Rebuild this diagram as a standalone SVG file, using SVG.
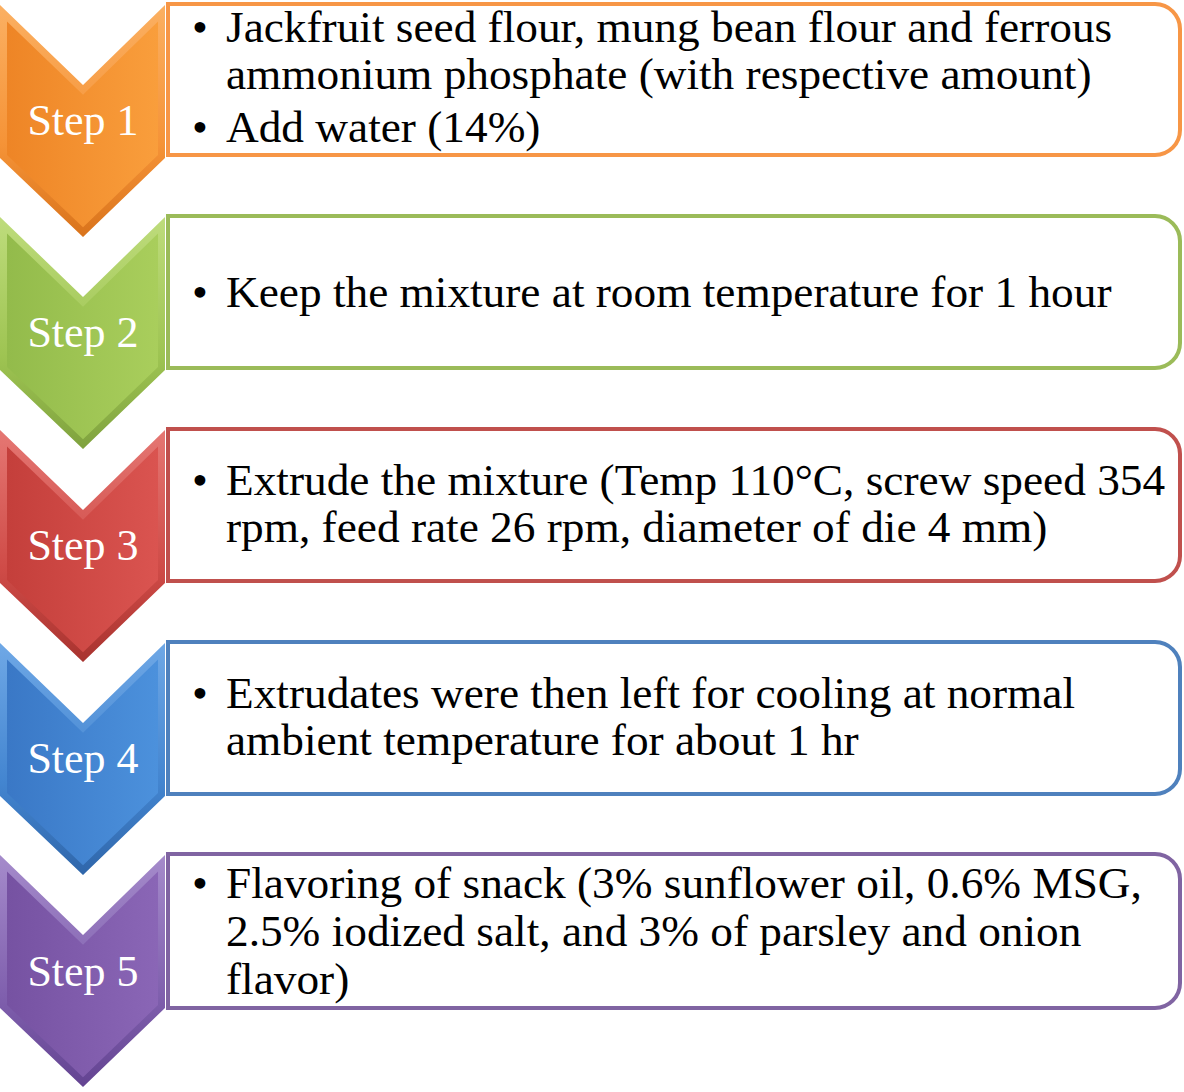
<svg xmlns="http://www.w3.org/2000/svg" width="1184" height="1092" viewBox="0 0 1184 1092">
<defs>
<linearGradient id="gO" x1="0" y1="0" x2="1" y2="0"><stop offset="0" stop-color="#EE8526"/><stop offset="1" stop-color="#F99E3C"/></linearGradient>
<linearGradient id="bO" x1="0" y1="0" x2="0" y2="1"><stop offset="0" stop-color="#FBB062"/><stop offset="0.6" stop-color="#F59337"/><stop offset="1" stop-color="#D9731B"/></linearGradient>
<linearGradient id="gG" x1="0" y1="0" x2="1" y2="0"><stop offset="0" stop-color="#93BB4B"/><stop offset="1" stop-color="#A9CE5C"/></linearGradient>
<linearGradient id="bG" x1="0" y1="0" x2="0" y2="1"><stop offset="0" stop-color="#BEDC7C"/><stop offset="0.6" stop-color="#9EC452"/><stop offset="1" stop-color="#7FA23E"/></linearGradient>
<linearGradient id="gR" x1="0" y1="0" x2="1" y2="0"><stop offset="0" stop-color="#C43F3B"/><stop offset="1" stop-color="#DA5450"/></linearGradient>
<linearGradient id="bR" x1="0" y1="0" x2="0" y2="1"><stop offset="0" stop-color="#E57773"/><stop offset="0.6" stop-color="#CF4B47"/><stop offset="1" stop-color="#A8332F"/></linearGradient>
<linearGradient id="gB" x1="0" y1="0" x2="1" y2="0"><stop offset="0" stop-color="#3A78C6"/><stop offset="1" stop-color="#4C91DC"/></linearGradient>
<linearGradient id="bB" x1="0" y1="0" x2="0" y2="1"><stop offset="0" stop-color="#6FA8E6"/><stop offset="0.6" stop-color="#4385D0"/><stop offset="1" stop-color="#2F66AA"/></linearGradient>
<linearGradient id="gP" x1="0" y1="0" x2="1" y2="0"><stop offset="0" stop-color="#7652A2"/><stop offset="1" stop-color="#8A66B6"/></linearGradient>
<linearGradient id="bP" x1="0" y1="0" x2="0" y2="1"><stop offset="0" stop-color="#A58BCB"/><stop offset="0.6" stop-color="#8060AE"/><stop offset="1" stop-color="#634391"/></linearGradient>
<polygon id="outer" points="0,0 83,80 165,0 165,153 83,232 0,153"/>
<polygon id="inner" points="7,16.5 83,89.7 158,16.5 158,150 83,222.3 7,150"/>
</defs>
<style>
.box{fill:#FFFFFF;stroke-width:4}
.t{font-family:"Liberation Serif","Times New Roman",serif;font-size:45.3px;fill:#000000}
.lbl{font-family:"Liberation Serif","Times New Roman",serif;font-size:44px;fill:#FFFFFF;text-anchor:middle}
</style>
<rect width="1184" height="1092" fill="#FFFFFF"/>

<g id="step1">
<path class="box" stroke="#F79646" d="M168,4 H1155 a25,25 0 0 1 25,25 V130 a25,25 0 0 1 -25,25 H168 Z"/>
<g transform="translate(0,5)"><use href="#outer" fill="url(#bO)"/><use href="#inner" fill="url(#gO)"/></g>
<text class="lbl" x="83" y="135">Step 1</text>
<text class="t" x="192" y="42">•</text><text class="t" x="226" y="42">Jackfruit seed flour, mung bean flour and ferrous</text>
<text class="t" x="226" y="89">ammonium phosphate (with respective amount)</text>
<text class="t" x="192" y="142">•</text><text class="t" x="226" y="142">Add water (14%)</text>
</g>

<g id="step2">
<path class="box" stroke="#9BBB59" d="M168,216 H1155 a25,25 0 0 1 25,25 V343 a25,25 0 0 1 -25,25 H168 Z"/>
<g transform="translate(0,217)"><use href="#outer" fill="url(#bG)"/><use href="#inner" fill="url(#gG)"/></g>
<text class="lbl" x="83" y="347">Step 2</text>
<text class="t" x="192" y="307">•</text><text class="t" x="226" y="307">Keep the mixture at room temperature for 1 hour</text>
</g>

<g id="step3">
<path class="box" stroke="#C0504D" d="M168,429 H1155 a25,25 0 0 1 25,25 V556 a25,25 0 0 1 -25,25 H168 Z"/>
<g transform="translate(0,430)"><use href="#outer" fill="url(#bR)"/><use href="#inner" fill="url(#gR)"/></g>
<text class="lbl" x="83" y="560">Step 3</text>
<text class="t" x="192" y="495">•</text><text class="t" x="226" y="495">Extrude the mixture (Temp 110°C, screw speed 354</text>
<text class="t" x="226" y="542">rpm, feed rate 26 rpm, diameter of die 4 mm)</text>
</g>

<g id="step4">
<path class="box" stroke="#4F81BD" d="M168,642 H1155 a25,25 0 0 1 25,25 V769 a25,25 0 0 1 -25,25 H168 Z"/>
<g transform="translate(0,643)"><use href="#outer" fill="url(#bB)"/><use href="#inner" fill="url(#gB)"/></g>
<text class="lbl" x="83" y="773">Step 4</text>
<text class="t" x="192" y="708">•</text><text class="t" x="226" y="708">Extrudates were then left for cooling at normal</text>
<text class="t" x="226" y="755">ambient temperature for about 1 hr</text>
</g>

<g id="step5">
<path class="box" stroke="#8064A2" d="M168,854 H1155 a25,25 0 0 1 25,25 V983 a25,25 0 0 1 -25,25 H168 Z"/>
<g transform="translate(0,855)"><use href="#outer" fill="url(#bP)"/><use href="#inner" fill="url(#gP)"/></g>
<text class="lbl" x="83" y="986">Step 5</text>
<text class="t" x="192" y="898">•</text><text class="t" x="226" y="898">Flavoring of snack (3% sunflower oil, 0.6% MSG,</text>
<text class="t" x="226" y="946">2.5% iodized salt, and 3% of parsley and onion</text>
<text class="t" x="226" y="994">flavor)</text>
</g>

<g id="connectors"></g>
</svg>
